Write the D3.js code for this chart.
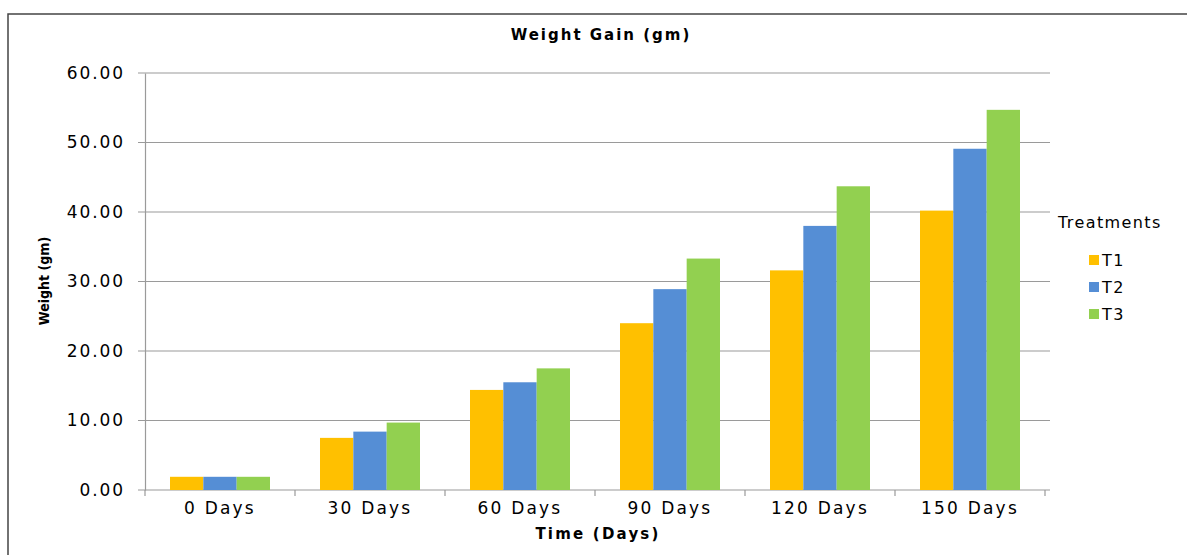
<!DOCTYPE html>
<html>
<head>
<meta charset="utf-8">
<script src="https://cdn.jsdelivr.net/npm/d3@7"></script>
<style>
  body { margin: 0; background: #fff; }
  text { font-family: "DejaVu Sans", "Liberation Sans", Arial, sans-serif; fill: #000; }
</style>
</head>
<body>
<script>
// datos
const categories = ['0 Days', '30 Days', '60 Days', '90 Days', '120 Days', '150 Days'];
const treatments = ['T1', 'T2', 'T3'];
const t1 = [1.9, 7.5, 14.4, 24.0, 31.6, 40.2];
const t2 = [1.9, 8.4, 15.5, 28.9, 38.0, 49.1];
const t3 = [1.9, 9.7, 17.5, 33.3, 43.7, 54.7];
const yTicks = [0, 10, 20, 30, 40, 50, 60];
const colors = ['#FFC000', '#558ED5', '#92D050'];

const WIDTH = 1187, HEIGHT = 555;
const margin = {top: 73, right: 137, bottom: 65, left: 145};
const width = 905, height = 417;

const data = categories.map((c, i) => ({cat: c, T1: t1[i], T2: t2[i], T3: t3[i]}));

const svgRoot = d3.select('body').append('svg')
    .attr('width', WIDTH)
    .attr('height', HEIGHT);

// marco exterior
svgRoot.append('rect')
    .attr('x', 8).attr('y', 14)
    .attr('width', WIDTH + 10).attr('height', HEIGHT + 10)
    .attr('fill', 'none')
    .attr('stroke', '#444')
    .attr('stroke-width', 1.5);

const svg = svgRoot.append('g')
    .attr('transform', `translate(${margin.left},${margin.top})`);

const x0 = d3.scaleBand()
    .domain(categories)
    .range([0, width - 5])
    .paddingInner(0)
    .paddingOuter(0);

const x1 = d3.scaleBand()
    .domain(treatments)
    .range([25, x0.bandwidth() - 25]);

const y = d3.scaleLinear()
    .domain([0, 60])
    .range([height, 0]);

const color = d3.scaleOrdinal().domain(treatments).range(colors);

// lineas de grilla
svg.append('g')
    .selectAll('line')
    .data(yTicks)
    .enter().append('line')
        .attr('x1', -7)
        .attr('x2', width)
        .attr('y1', d => y(d))
        .attr('y2', d => y(d))
        .attr('stroke', '#9a9a9a')
        .attr('stroke-width', 1.2);

// eje y
const yAxis = d3.axisLeft(y).tickValues(yTicks).tickFormat(d3.format('.2f')).tickSize(0).tickPadding(20);
const gy = svg.append('g').call(yAxis);
gy.select('.domain').attr('stroke', '#9a9a9a').attr('stroke-width', 1.2);
gy.selectAll('text')
    .style('font-size', '17px')
    .style('letter-spacing', '1.9px')
    .attr('fill', '#000');

// barras
svg.append('g')
    .selectAll('g')
    .data(data)
    .enter().append('g')
        .attr('transform', d => `translate(${x0(d.cat)},0)`)
    .selectAll('rect')
        .data(d => treatments.map(k => ({key: k, value: d[k]})))
        .enter().append('rect')
            .attr('x', d => x1(d.key))
            .attr('y', d => y(d.value))
            .attr('width', x1.bandwidth())
            .attr('height', d => height - y(d.value))
            .attr('fill', d => color(d.key));

// eje x
const xAxis = d3.axisBottom(x0).tickSize(0).tickPadding(12);
const gx = svg.append('g')
    .attr('transform', `translate(0,${height})`)
    .call(xAxis);
gx.select('.domain').remove();
gx.selectAll('text').style('font-size', '17px').style('letter-spacing', '2.2px').attr('fill', '#000');

// marcas entre categorias
const bounds = categories.map(c => x0(c)).concat([x0.range()[1]]);
svg.append('g')
    .selectAll('line')
    .data(bounds)
    .enter().append('line')
        .attr('x1', d => d).attr('x2', d => d)
        .attr('y1', height).attr('y2', height + 6)
        .attr('stroke', '#9a9a9a')
        .attr('stroke-width', 1.2);

// titulos
svgRoot.append('text')
    .attr('x', 601).attr('y', 40)
    .attr('text-anchor', 'middle')
    .style('font-size', '15px').style('font-weight', 'bold')
    .style('letter-spacing', '2px')
    .text('Weight Gain (gm)');

svgRoot.append('text')
    .attr('x', 598).attr('y', 539)
    .attr('text-anchor', 'middle')
    .style('font-size', '15px').style('font-weight', 'bold')
    .style('letter-spacing', '2.2px')
    .text('Time (Days)');

svgRoot.append('text')
    .attr('transform', 'translate(49,281) rotate(-90)')
    .attr('text-anchor', 'middle')
    .style('font-family', '"Liberation Sans Narrow", "DejaVu Sans Condensed", sans-serif')
    .style('font-size', '14px').style('font-weight', 'bold')
    .text('Weight (gm)');

// leyenda
svgRoot.append('text')
    .attr('x', 1058).attr('y', 228)
    .style('font-size', '16px')
    .style('letter-spacing', '1.4px')
    .text('Treatments');

const legend = svgRoot.selectAll('.legend')
    .data(treatments)
    .enter().append('g')
        .attr('class', 'legend')
        .attr('transform', (d, i) => `translate(1089,${255 + i * 27})`);

legend.append('rect')
    .attr('width', 10).attr('height', 10)
    .attr('fill', color);

legend.append('text')
    .attr('x', 13).attr('y', 5)
    .attr('dy', '0.35em')
    .style('font-size', '16px')
    .style('letter-spacing', '1.5px')
    .text(d => d);
</script>
</body>
</html>
